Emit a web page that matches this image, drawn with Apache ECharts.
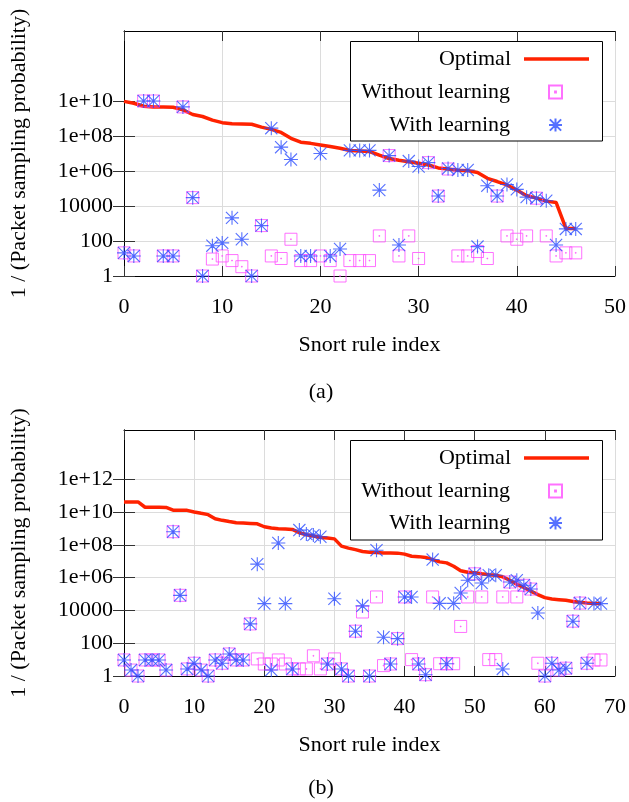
<!DOCTYPE html>
<html>
<head>
<meta charset="utf-8">
<script src="https://cdn.jsdelivr.net/npm/echarts@6/dist/echarts.min.js"></script>
<style>html,body{margin:0;padding:0;background:#fff}#c{width:629px;height:802px}</style>
</head>
<body>
<div id="c"></div>
<script>
// ---------- Panel (a) ----------
const optimalA = [9.5e9,7.4e9,5.0e9,4.6e9,4.6e9,4.4e9,3.1e9,1.7e9,1.3e9,8.1e8,
  5.8e8,5.0e8,4.9e8,4.7e8,3.2e8,2.4e8,1.6e8,7.4e7,4.4e7,3.8e7,
  3.1e7,2.5e7,2.0e7,1.5e7,1.4e7,1.3e7,8.1e6,5.2e6,4.1e6,3.4e6,
  2.8e6,2.2e6,1.5e6,1.3e6,1.1e6,1.05e6,8.3e5,3.8e5,2.5e5,1.6e5,
  8.1e4,3.9e4,2.8e4,1.9e4,1.6e4,525,525];
const withoutA = [21,14,1e10,1e10,14,14,4.6e9,3.0e4,1,9.3,
  14,7.6,3.4,1,760,14,10,126,7.6,7.6,
  14,7.6,1,7.6,7.6,7.6,195,7.6e6,14,195,
  10,3.0e6,3.7e4,1.3e6,14,14,25,10,3.7e4,195,
  126,195,2.8e4,195,14,21,21];
const withA = [21,14,1e10,1e10,14,14,4.6e9,3.0e4,1,54,
  78,2100,126,1,760,2.8e8,2.3e7,4.5e6,14,14,
  1.0e7,14,35,1.5e7,1.5e7,1.5e7,8.1e4,7.6e6,59,3.7e6,
  1.8e6,3.0e6,3.7e4,1.4e6,1.15e6,1.15e6,48,1.45e5,3.7e4,1.7e5,
  8.9e4,3.2e4,2.8e4,2.0e4,59,490,490];

// ---------- Panel (b) ----------
const optimalB = [4.1e10,4.1e10,4.1e10,1.95e10,1.95e10,1.95e10,1.9e10,1.3e10,1.26e10,1.26e10,
  1.0e10,8.3e9,6.9e9,3.9e9,3.1e9,2.6e9,2.2e9,2.1e9,2.0e9,1.9e9,
  1.26e9,1.05e9,9.5e8,9.1e8,8.7e8,5.4e8,4.1e8,3.4e8,2.8e8,2.6e8,
  2.3e8,8.3e7,6.3e7,5.1e7,3.9e7,3.5e7,3.4e7,3.2e7,3.2e7,3.1e7,
  2.7e7,2.0e7,1.9e7,1.7e7,1.26e7,9.1e6,7.9e6,4.9e6,2.6e6,2.1e6,
  1.95e6,1.7e6,1.5e6,1.4e6,1.1e6,6.9e5,3.9e5,2.5e5,1.5e5,9.1e4,
  6.0e4,4.9e4,4.5e4,4.1e4,3.5e4,3.1e4,2.8e4,2.6e4,2.6e4];
const withoutB = [9.5,2.3,1,9.5,9.5,9.5,2.3,6.3e8,8.3e4,2.7,
  6.0,2.3,1,9.5,6.0,22,9.5,9.5,1500,11,
  5.4,5.4,9.5,5.4,2.7,2.7,2.7,17,2.7,5.4,
  11,2.7,1,540,8.0e3,1,6.6e4,4.3,5.4,190,
  6.6e4,10,5.4,1.2,6.6e4,5.6,5.6,5.6,1050,6.6e4,
  1.7e6,6.6e4,10,10,6.6e4,5.4e5,6.6e4,3.4e5,2.0e5,6.0,
  1,6.0,2.3,3.0,2.2e3,2.8e4,6.0,9.5,9.5];
const withB = [9.5,2.3,1,9.5,9.5,9.5,2.3,6.3e8,8.3e4,2.7,
  6.0,2.3,1,9.5,6.0,22,9.5,9.5,1500,6.6e6,
  2.6e4,2.3,1.3e8,2.6e4,2.7,7.9e8,4.5e8,3.9e8,3.1e8,5.4,
  5.1e4,2.7,1,540,1.9e4,1,4.7e7,230,5.4,190,
  6.6e4,6.6e4,5.4,1.2,1.26e7,2.7e4,5.6,2.7e4,1.15e5,6.9e5,
  1.7e6,4.7e5,1.4e6,1.4e6,2.7,5.4e5,6.9e5,3.4e5,2.0e5,6.9e3,
  1,6.0,2.3,3.0,2.2e3,2.8e4,6.0,2.6e4,2.6e4];

// ---------- Tick labels ----------
const xTicksA = [0,10,20,30,40,50];
const xTicksB = [0,10,20,30,40,50,60,70];
const yTickValuesA = [1,100,1e4,1e6,1e8,1e10];
const yTickLabelsA = ['1','100','10000','1e+06','1e+08','1e+10'];
const yTickValuesB = [1,100,1e4,1e6,1e8,1e10,1e12];
const yTickLabelsB = ['1','100','10000','1e+06','1e+08','1e+10','1e+12'];

const FONT = '"Liberation Serif","DejaVu Serif",serif';
const RED = '#ff2200', PINK = '#ff4dff', BLUE = '#2a4cff';
const SQUARE = 'path://M0,0 L12,0 L12,12 L0,12 Z M5.6,5.6 L6.4,5.6 L6.4,6.4 L5.6,6.4 Z';
const STAR = 'path://M6,0 L6,12 M0,6 L12,6 M0.8,0.8 L11.2,11.2 M0.8,11.2 L11.2,0.8 M0,0 M12,12 M5.5,5.5 L6.5,5.5 L6.5,6.5 L5.5,6.5 Z';
const LINE_ICON = 'path://M0,0 L65,0 L65,3.5 L0,3.5 Z';

const pts = arr => arr.map((v, i) => [i, v]);
function labelFor(values, labels) {
  return v => {
    for (let k = 0; k < values.length; k++) {
      if (Math.abs(Math.log10(v) - Math.log10(values[k])) < 1e-6) return labels[k];
    }
    return '';
  };
}

const grids = [
  {left: 123, top: 31, width: 492, height: 245},
  {left: 123, top: 430, width: 492, height: 246}
];

function xAxesFor(gi, ticks) {
  const max = ticks[ticks.length - 1];
  return [
    {gridIndex: gi, type: 'value', min: 0, max: max, interval: 10, position: 'bottom',
     axisLine: {show: true, lineStyle: {color: '#000', width: 1}},
     axisTick: {show: true, inside: true, length: 10, lineStyle: {color: '#333'}},
     axisLabel: {margin: 20, fontSize: 22, fontFamily: FONT, color: '#000'},
     splitLine: {show: true, lineStyle: {color: '#dcdcdc', width: 1}},
     name: 'Snort rule index', nameLocation: 'middle', nameGap: 58,
     nameTextStyle: {fontSize: 22, fontFamily: FONT, color: '#000'}},
    {gridIndex: gi, type: 'value', min: 0, max: max, interval: 10, position: 'top',
     axisLine: {show: true, lineStyle: {color: '#000', width: 1}},
     axisTick: {show: true, inside: true, length: 10, lineStyle: {color: '#333'}},
     axisLabel: {show: false}, splitLine: {show: false}}
  ];
}
function yAxesFor(gi, max, values, labels) {
  return [
    {gridIndex: gi, type: 'log', logBase: 10, min: 1, max: max, position: 'left',
     axisLine: {show: true, lineStyle: {color: '#000', width: 1}},
     axisTick: {show: true, inside: true, length: 11, customValues: values, lineStyle: {color: '#333'}},
     axisLabel: {customValues: values, margin: 11, fontSize: 22, fontFamily: FONT, color: '#000',
       formatter: labelFor(values, labels)},
     splitLine: {show: true, lineStyle: {color: '#dcdcdc', width: 1}},
     name: '1 / (Packet sampling probability)', nameLocation: 'middle', nameGap: 94, nameRotate: 90,
     nameTextStyle: {fontSize: 22, fontFamily: FONT, color: '#000'}},
    {gridIndex: gi, type: 'log', logBase: 10, min: 1, max: max, position: 'right',
     axisLine: {show: true, lineStyle: {color: '#000', width: 1}},
     axisTick: {show: true, inside: true, length: 11, customValues: values, lineStyle: {color: '#333'}},
     axisLabel: {show: false}, splitLine: {show: false}}
  ];
}

function seriesFor(ax, opt, wo, wi) {
  return [
    {name: 'Optimal', type: 'line', xAxisIndex: ax, yAxisIndex: ax, data: pts(opt),
     symbol: 'none', lineStyle: {color: RED, width: 3.5}, itemStyle: {color: RED}, z: 2, silent: true},
    {name: 'Without learning', type: 'scatter', xAxisIndex: ax, yAxisIndex: ax, data: pts(wo),
     symbol: SQUARE, symbolSize: 12, z: 3, silent: true,
     itemStyle: {color: 'rgba(0,0,0,0)', borderColor: PINK, borderWidth: 1}},
    {name: 'With learning', type: 'scatter', xAxisIndex: ax, yAxisIndex: ax, data: pts(wi),
     symbol: STAR, symbolSize: 14, z: 4, silent: true,
     itemStyle: {color: 'rgba(0,0,0,0)', borderColor: BLUE, borderWidth: 1.1}}
  ];
}

function legendsFor(tops) {
  const common = {orient: 'vertical', align: 'right', padding: 0, selectedMode: false, z: 6, itemHeight: 13};
  const ts = pad => ({fontSize: 22, fontFamily: FONT, color: '#000', padding: [0, pad, 0, 0]});
  return [
    Object.assign({}, common, {data: [{name: 'Optimal', icon: LINE_ICON}], right: 40, top: tops[0],
      itemWidth: 65, textStyle: ts(8)}),
    Object.assign({}, common, {data: ['Without learning'], right: 66, top: tops[1],
      itemWidth: 13, textStyle: ts(34)}),
    Object.assign({}, common, {data: ['With learning'], right: 66, top: tops[2],
      itemWidth: 13, textStyle: ts(34)})
  ];
}

const option = {
  animation: false,
  backgroundColor: '#fff',
  grid: grids,
  xAxis: [...xAxesFor(0, xTicksA), ...xAxesFor(1, xTicksB)],
  yAxis: [...yAxesFor(0, 1e14, yTickValuesA, yTickLabelsA), ...yAxesFor(1, 1e15, yTickValuesB, yTickLabelsB)],
  legend: [...legendsFor([48, 81, 114]), ...legendsFor([447, 480, 512])],
  series: [...seriesFor(0, optimalA, withoutA, withA), ...seriesFor(2, optimalB, withoutB, withB)],
  graphic: [
    {type: 'rect', z: 5, shape: {x: 350.5, y: 41.5, width: 252, height: 99.5},
     style: {fill: '#fff', stroke: '#000', lineWidth: 1}},
    {type: 'rect', z: 5, shape: {x: 350.5, y: 440.5, width: 252, height: 99.5},
     style: {fill: '#fff', stroke: '#000', lineWidth: 1}},
    {type: 'text', z: 5, x: 321, y: 392, style: {text: '(a)', fontSize: 22, fontFamily: FONT, fill: '#000',
      textAlign: 'center', textVerticalAlign: 'middle'}},
    {type: 'text', z: 5, x: 321, y: 788, style: {text: '(b)', fontSize: 22, fontFamily: FONT, fill: '#000',
      textAlign: 'center', textVerticalAlign: 'middle'}}
  ]
};

const chart = echarts.init(document.getElementById('c'), null, {renderer: 'canvas'});
chart.setOption(option);
</script>
</body>
</html>
